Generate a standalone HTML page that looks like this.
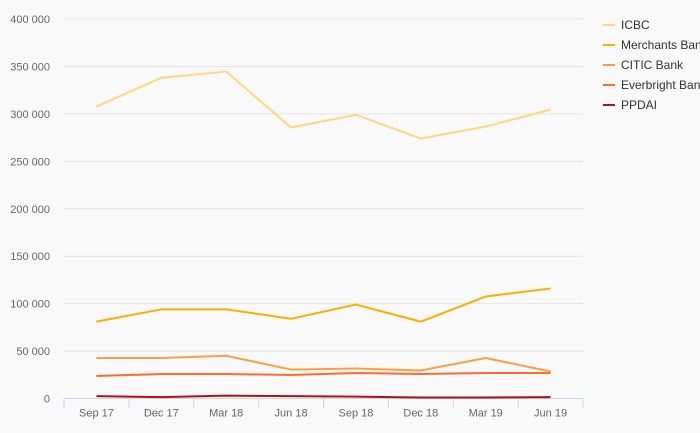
<!DOCTYPE html>
<html><head><meta charset="utf-8"><style>
body{margin:0;background:#f9f9f9;font-family:"Liberation Sans",sans-serif;}
svg{display:block}
</style></head><body>
<svg id="chart" width="700" height="433" font-family="Liberation Sans, sans-serif"></svg>
<script>
const categories=["Sep 17","Dec 17","Mar 18","Jun 18","Sep 18","Dec 18","Mar 19","Jun 19"];
const seriesNames=["ICBC","Merchants Bank","CITIC Bank","Everbright Bank","PPDAI"];
const icbc=[307700,338000,344600,285600,299000,274000,286600,304500];
const merchants=[81000,94000,94000,84000,99000,81000,107500,116000];
const citic=[42700,42700,45000,30500,31600,29500,42700,28500];
const everbright=[23700,25800,25800,24800,26900,25800,26900,26900];
const ppdai=[2500,1500,3000,2500,2000,1000,1000,1500];
const yTicks=[0,50000,100000,150000,200000,250000,300000,350000,400000];
const colors=["#fdd97c","#f9ae00","#fd9e47","#fc6d2e","#a9141b"];
const allSeries=[icbc,merchants,citic,everbright,ppdai];
const svg=document.getElementById('chart');const NS="http://www.w3.org/2000/svg";
const L=64,R=583,T=19,B=398.5,yMax=400000;
const xs=i=>L+(R-L)/categories.length*(i+0.5);
const ys=v=>B-(v/yMax)*(B-T);
function mk(t,a){const e=document.createElementNS(NS,t);for(const k in a)e.setAttribute(k,a[k]);svg.appendChild(e);return e;}
yTicks.forEach(v=>{
 if(v>0){const g=mk('line',{x1:L,x2:R,y1:ys(v),y2:ys(v),stroke:'#e6e6e6'});
 
 }
 const t=mk('text',{x:50,y:ys(v)+4,'text-anchor':'end','font-size':11,fill:'#666'});t.textContent=v===0?'0':(v/1000)+' 000';
 
 
});
const ax=mk('line',{x1:L,x2:R,y1:B,y2:B,stroke:'#ccd6eb'});


for(let i=0;i<=categories.length;i++){const x=L+(R-L)/categories.length*i;const tk=mk('line',{x1:x,x2:x,y1:B,y2:B+10,stroke:'#ccd6eb'});
 
 }
categories.forEach((c,i)=>{const t=mk('text',{x:xs(i),y:B+18,'text-anchor':'middle','font-size':11,fill:'#666'});t.textContent=c;
 
 });
allSeries.forEach((s,k)=>{
 const p=mk('polyline',{points:s.map((v,i)=>xs(i)+','+ys(v)).join(' '),fill:'none',stroke:colors[k],'stroke-width':2,'stroke-linejoin':'round'});
 
 
 const y=25+k*20;
 const m=mk('line',{x1:603,x2:615,y1:y,y2:y,stroke:colors[k],'stroke-width':2});
 
 
 const t=mk('text',{x:621,y:y+4,'font-size':12,fill:'#333'});t.textContent=seriesNames[k];
 
 
});
</script>
</body></html>
